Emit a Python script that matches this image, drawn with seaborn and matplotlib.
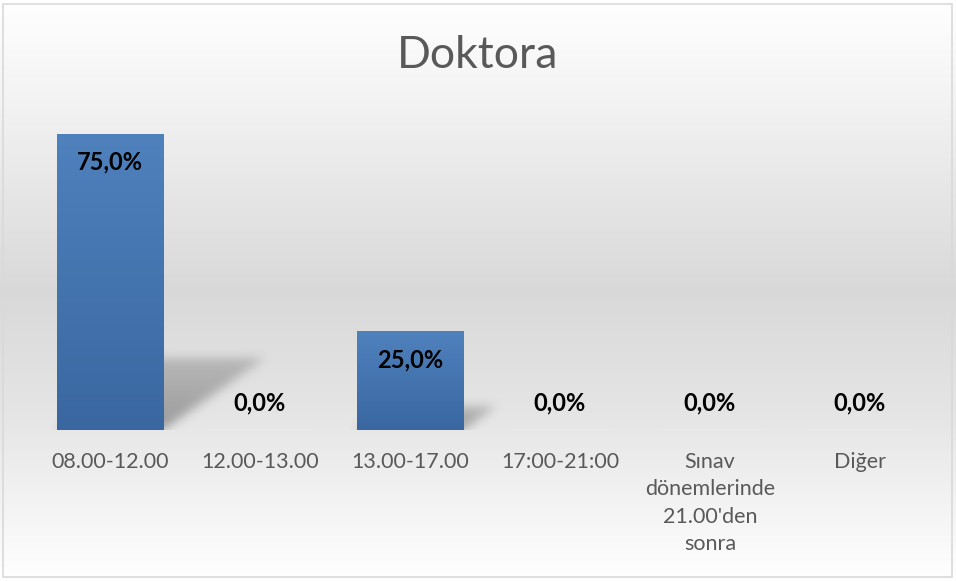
import numpy as np
import matplotlib
matplotlib.use("Agg")
import matplotlib.pyplot as plt
import seaborn as sns
from matplotlib.patches import Rectangle

categories = ["08.00-12.00", "12.00-13.00", "13.00-17.00", "17:00-21:00",
              "Sınav\ndönemlerinde\n21.00'den\nsonra", "Diğer"]
values = [0.75, 0.0, 0.25, 0.0, 0.0, 0.0]
title = "Doktora"

sns.set_theme(style="white")
plt.rcParams["font.family"] = ["Lato", "DejaVu Sans"]

W, H = 956, 581
fig = plt.figure(figsize=(W / 100, H / 100), dpi=100)

# background: vertical gray gradient over the whole chart area
bg = fig.add_axes([0, 0, 1, 1], zorder=0)
t = np.linspace(0, 1, 300)
shade = np.interp(t, [0.0, 0.18, 0.5, 0.72, 1.0], [1.0, 0.95, 0.85, 0.9, 1.0])
bg_img = np.repeat(shade[:, None, None], 3, axis=2).repeat(2, axis=1)
bg.imshow(bg_img, aspect="auto", extent=[0, 1, 0, 1], origin="upper")
bg.set_xlim(0, 1)
bg.set_ylim(0, 1)
bg.axis("off")
bg.add_patch(Rectangle((3 / W, 4 / H), 949 / W, 573 / H, fill=False,
                       edgecolor="#d9d9d9", linewidth=1.2))

ax = fig.add_axes([35 / W, (H - 430) / H, 900 / W, (430 - 114) / H], zorder=1)
ax.patch.set_alpha(0)

sns.barplot(x=categories, y=values, ax=ax, width=0.71, color="#4a7ab5")

xmin, xmax, ymin, ymax = -0.5, len(categories) - 0.5, 0, 0.8

# blurred perspective shadows behind bars
nx, ny = 900, 316
xs = np.linspace(xmin, xmax, nx)
ys = np.linspace(ymin, ymax, ny)
X, Y = np.meshgrid(xs, ys)
mask = np.zeros_like(X)
hw = 0.355
for i, v in enumerate(values):
    if v <= 0:
        continue
    dx, dy = 0.907 * v, 0.243 * v
    shift = Y * dx / dy
    inside = (Y <= dy) & (X >= i - hw + shift) & (X <= i + hw + shift)
    fade = 1 - 0.45 * np.clip(Y / dy, 0, 1)
    mask = np.maximum(mask, inside * fade)
kx = np.arange(-15, 16)
kern = np.exp(-kx ** 2 / (2 * 5.0 ** 2))
kern /= kern.sum()
mask = np.apply_along_axis(lambda r: np.convolve(r, kern, mode="same"), 1, mask)
mask = np.apply_along_axis(lambda c: np.convolve(c, kern, mode="same"), 0, mask)
shadow = np.zeros((ny, nx, 4))
shadow[..., :3] = 0.42
shadow[..., 3] = mask * 0.62
ax.imshow(shadow, extent=[xmin, xmax, ymin, ymax], origin="lower", aspect="auto", zorder=0.5)

# gradient fill inside bars
grad = np.linspace(0, 1, 100)[:, None]
top_c = np.array([79, 129, 189]) / 255
bot_c = np.array([58, 103, 160]) / 255
img = top_c[None, None, :] * (1 - grad[:, :, None]) + bot_c[None, None, :] * grad[:, :, None]
for p in ax.patches:
    if not isinstance(p, Rectangle) or p.get_height() <= 0:
        continue
    x0, w, h = p.get_x(), p.get_width(), p.get_height()
    p.set_facecolor("none")
    p.set_edgecolor("none")
    p.set_zorder(2)
    im = ax.imshow(img, extent=[x0, x0 + w, 0, h], aspect="auto", origin="upper", zorder=1)
    im.set_clip_path(p)

ax.set_xlim(xmin, xmax)
ax.set_ylim(ymin, ymax)

for i, v in enumerate(values):
    lab = f"{v * 100:.1f}%".replace(".", ",")
    off = -20.5 if v > 0 else 19.5
    ax.annotate(lab, (i, v), xytext=(0, off), textcoords="offset points",
                ha="center", va="center", fontsize=17, fontweight="bold",
                color="black", zorder=3)

ax.set_xticks(range(len(categories)))
ax.set_xticklabels(categories, fontsize=15.5, color="#595959", linespacing=1.45)
ax.tick_params(axis="x", length=0, pad=16)
ax.set_yticks([])
ax.set_xlabel("")
ax.set_ylabel("")
sns.despine(ax=ax, left=True, bottom=True)

fig.text(0.5, 1 - 56 / H, title, ha="center", va="center", fontsize=32,
         fontweight="normal", color="#595959")

fig.savefig("out.png", dpi=100)
